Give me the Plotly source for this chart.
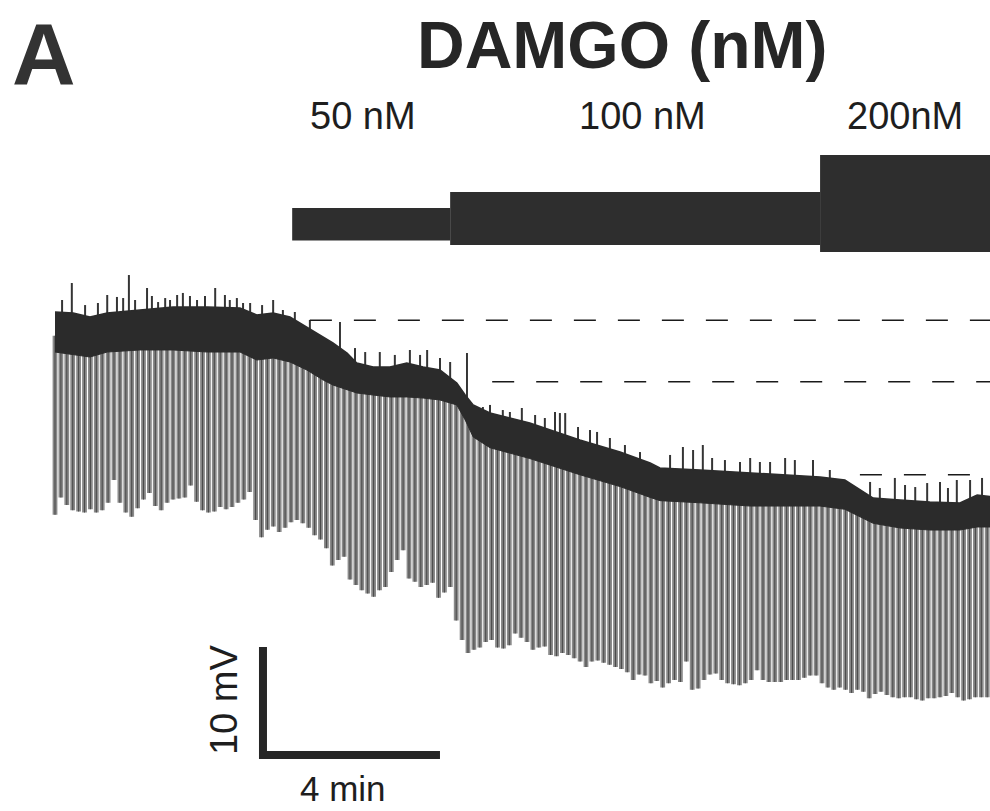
import numpy as np
import plotly.graph_objects as go

# ---- recording (time in min, membrane potential in mV) ----
# envelope of the dark resting-potential band
band_t = [0.00, 0.41, 0.79, 1.18, 1.92, 2.67, 3.44, 4.18, 4.56, 4.93, 5.31, 5.69,
          6.06, 6.28, 6.60, 6.82, 7.19, 7.57, 7.95, 8.32, 8.70, 9.08, 9.27, 9.45,
          9.83, 10.73, 11.86, 12.77, 13.45, 13.67, 14.58, 15.71, 17.29, 17.85,
          18.49, 19.10, 19.77, 20.45, 20.84, 21.20]
band_top = [-43.33, -43.43, -43.80, -43.43, -43.15, -42.87, -42.87, -42.96, -43.61,
            -43.43, -43.80, -44.72, -45.65, -46.20, -47.13, -48.06, -48.43, -48.43,
            -48.06, -48.43, -48.70, -49.91, -51.02, -51.94, -52.69, -53.61, -55.19,
            -56.30, -57.31, -57.78, -57.96, -58.24, -58.61, -58.89, -60.56, -60.74,
            -60.93, -61.02, -60.28, -60.46]
band_bottom = [-47.04, -47.31, -47.50, -47.04, -46.85, -46.85, -47.04, -47.04, -47.78,
               -47.59, -47.96, -48.70, -49.63, -50.09, -50.56, -50.83, -51.02, -51.20,
               -51.20, -51.30, -51.48, -51.94, -53.33, -54.90, -55.90, -56.90, -58.40,
               -59.50, -60.50, -60.80, -61.00, -61.30, -61.30, -61.60, -62.90, -63.33,
               -63.52, -63.52, -63.24, -63.24]

# spontaneous depolarising spikes riding on the band
spike_t = [0.16, 0.38, 0.68, 0.97, 1.18, 1.40, 1.54, 1.67, 1.81, 2.08, 2.19, 2.33,
           2.49, 2.60, 2.76, 2.89, 3.05, 3.21, 3.39, 3.62, 3.84, 3.95, 4.11, 4.25,
           4.41, 4.68, 4.93, 5.15, 5.42, 5.76, 6.44, 6.78, 7.01, 7.34, 7.68, 8.02,
           8.25, 8.41, 8.70, 8.93, 9.31, 9.67, 9.83, 10.12, 10.28, 10.55, 10.85,
           11.07, 11.30, 11.41, 11.53, 11.82, 12.09, 12.25, 12.54, 12.88, 13.22,
           13.90, 14.19, 14.42, 14.64, 14.85, 15.14, 15.48, 15.71, 15.93, 16.16,
           16.50, 16.72, 17.13, 17.51, 18.42, 18.64, 18.98, 19.21, 19.44, 19.71,
           20.00, 20.18, 20.38, 20.68, 20.95]
spike_peak = [-42.22, -40.65, -42.69, -42.50, -41.76, -41.94, -42.04, -39.91, -42.22,
              -41.11, -41.85, -42.41, -42.04, -42.22, -41.76, -41.57, -41.85, -42.22,
              -41.85, -41.11, -41.76, -42.22, -42.04, -42.50, -42.50, -42.69, -42.22,
              -43.15, -43.33, -44.07, -44.26, -46.67, -47.04, -47.04, -47.31, -46.85,
              -47.31, -46.85, -47.59, -47.96, -47.13, -52.13, -51.94, -52.41, -52.59,
              -52.22, -52.87, -53.15, -52.59, -52.69, -52.69, -53.98, -54.26, -54.44,
              -55.00, -55.65, -56.30, -56.57, -55.83, -56.11, -55.65, -56.85, -57.04,
              -57.22, -56.85, -57.22, -57.22, -56.85, -57.04, -57.04, -57.96, -59.07,
              -59.63, -58.70, -59.35, -59.54, -59.17, -59.07, -59.63, -58.89, -58.89,
              -58.70]

# hyperpolarising test pulses, one every 8 s: peak potential of each response
pulse_interval_s = 8
pulse_bottom = [
    -62.1, -60.5, -61.2, -61.7, -61.8, -61.9, -61.6, -61.9, -61.7, -61.0,
    -58.9, -61.0, -61.9, -62.3, -61.5, -60.7, -60.1, -61.3, -61.7, -61.0,
    -60.7, -60.6, -60.5, -59.4, -60.9, -61.7, -61.9, -61.8, -61.4, -61.6,
    -61.4, -61.0, -60.7, -60.0, -62.6, -64.2, -63.5, -63.2, -63.7, -63.3,
    -62.8, -62.6, -62.9, -63.3, -64.0, -64.4, -65.2, -66.8, -66.3, -66.0,
    -68.1, -68.6, -69.1, -69.4, -69.7, -69.1, -68.8, -67.4, -66.3, -65.4,
    -68.0, -68.3, -68.8, -68.6, -68.4, -69.8, -69.3, -68.8, -71.9, -73.7,
    -74.9, -74.6, -74.4, -73.9, -73.7, -74.4, -74.5, -74.2, -73.1, -73.5,
    -73.9, -74.6, -74.4, -74.3, -75.1, -75.2, -74.9, -75.1, -75.4, -75.7,
    -76.2, -75.7, -75.6, -75.8, -76.0, -76.2, -76.4, -76.7, -77.4, -76.9,
    -77.0, -77.7, -77.5, -78.1, -77.7, -77.4, -77.6, -75.7, -78.3, -78.2,
    -77.4, -76.9, -76.8, -77.4, -77.7, -77.8, -77.9, -77.7, -77.4, -76.5,
    -77.4, -77.6, -77.6, -77.6, -77.4, -77.4, -77.4, -77.2, -77.0, -77.0,
    -77.7, -78.1, -78.3, -78.1, -78.3, -78.6, -78.3, -78.5, -79.1, -78.7,
    -78.5, -78.8, -79.0, -79.1, -79.0, -79.0, -79.2, -79.3, -79.1, -79.1,
    -79.0, -78.9, -78.6, -79.0, -79.3, -79.2, -79.0, -79.0, -79.0,
]

# reference baselines (dashed) for each concentration step
baseline_level = [-44.1, -49.8, -58.4]
baseline_from = [5.76, 9.88, 18.19]

# DAMGO application
drug_conc = [50, 100, 200]
drug_labels = ["50 nM", "100 nM", "200nM"]
drug_on = [5.36, 8.93, 17.29]
drug_off = [8.93, 17.29, 21.60]

# scale bar
scale_min = 4
scale_mv = 10

# ---- view ----
T_RANGE = [-1.243, 21.130]
V_RANGE = [-89.537, -14.444]
INK = "#2b2b2b"

fig = go.Figure()

# test pulses (drawn first so the band sits over their upper ends)
pulse_t = np.arange(len(pulse_bottom)) * pulse_interval_s / 60.0
pulse_top = np.interp(pulse_t, band_t, band_bottom) + 1.5
px, py = [], []
for t, top, bot in zip(pulse_t, pulse_top, pulse_bottom):
    px += [t, t, None]
    py += [top, bot, None]
fig.add_trace(go.Scatter(x=px, y=py, mode="lines",
                         line=dict(color="#8a8a8a", width=4.8),
                         hoverinfo="skip", showlegend=False))
fig.add_trace(go.Scatter(x=px, y=py, mode="lines",
                         line=dict(color="#4a4a4a", width=1.1),
                         hoverinfo="skip", showlegend=False))

# spikes
spike_base = np.interp(spike_t, band_t, band_top) - 1.0
sx, sy = [], []
for t, b, p in zip(spike_t, spike_base, spike_peak):
    sx += [t, t, None]
    sy += [b, p, None]
fig.add_trace(go.Scatter(x=sx, y=sy, mode="lines",
                         line=dict(color="#353535", width=2),
                         hoverinfo="skip", showlegend=False))

# resting band
fig.add_trace(go.Scatter(x=band_t, y=band_bottom, mode="lines",
                         line=dict(color=INK, width=1),
                         hoverinfo="skip", showlegend=False))
fig.add_trace(go.Scatter(x=band_t, y=band_top, mode="lines", fill="tonexty",
                         fillcolor=INK, line=dict(color=INK, width=1.5),
                         hoverinfo="skip", showlegend=False))

# dashed baselines
for lvl, t0 in zip(baseline_level, baseline_from):
    fig.add_trace(go.Scatter(x=[t0, T_RANGE[1]], y=[lvl, lvl], mode="lines",
                             line=dict(color="#1a1a1a", width=1.5, dash="22px,22px"),
                             hoverinfo="skip", showlegend=False))

# scale bar
corner_t, corner_v = 4.70, -84.35
fig.add_trace(go.Scatter(x=[corner_t, corner_t, corner_t + scale_min],
                         y=[corner_v + scale_mv, corner_v, corner_v],
                         mode="lines", line=dict(color="#262626", width=8),
                         hoverinfo="skip", showlegend=False))

# drug application bars (thicker bar = higher concentration)
bar_extent = {50: (0.7035, 0.7435), 100: (0.6979, 0.7633), 200: (0.6893, 0.8089)}
shapes = []
for c, t0, t1 in zip(drug_conc, drug_on, drug_off):
    y0, y1 = bar_extent[c]
    shapes.append(dict(type="rect", xref="x", yref="paper", x0=t0, x1=t1,
                       y0=y0, y1=y1, fillcolor="#2e2e2e", line=dict(width=0),
                       layer="above"))

FONT = "Liberation Sans, Arial, Helvetica, sans-serif"
annotations = [
    dict(text="<b>A</b>", x=0.0444, y=0.9346, font=dict(size=88, color="#333333")),
    dict(text="<b>DAMGO (nM)</b>", x=0.6283, y=0.9445, font=dict(size=66, color="#262626")),
    dict(text="10 mV", x=0.2263, y=0.1369, textangle=-90, font=dict(size=38, color="#1e1e1e")),
    dict(text="4 min", x=0.3465, y=0.0275, font=dict(size=35, color="#1e1e1e")),
]
label_x = [0.3667, 0.6485, 0.9141]
for lab, lx in zip(drug_labels, label_x):
    annotations.append(dict(text=lab, x=lx, y=0.857, font=dict(size=38, color="#1e1e1e")))
for a in annotations:
    a.update(xref="paper", yref="paper", xanchor="center", yanchor="middle",
             showarrow=False)
    a["font"]["family"] = FONT

fig.update_layout(
    width=990, height=811,
    margin=dict(l=0, r=0, t=0, b=0),
    paper_bgcolor="white", plot_bgcolor="white",
    xaxis=dict(range=T_RANGE, visible=False, fixedrange=True),
    yaxis=dict(range=V_RANGE, visible=False, fixedrange=True),
    shapes=shapes,
    annotations=annotations,
    showlegend=False,
)

fig.write_html("out.html")
